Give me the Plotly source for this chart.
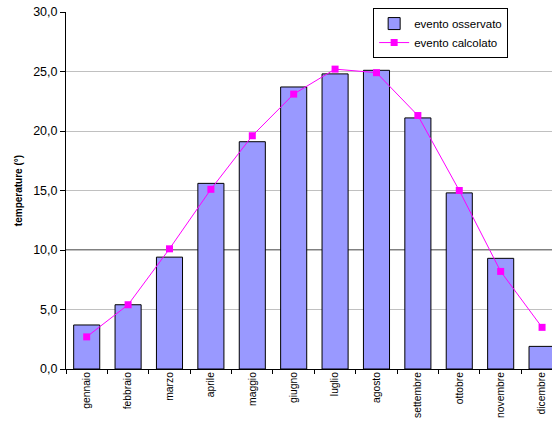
import plotly.graph_objects as go

mesi = ["gennaio", "febbraio", "marzo", "aprile", "maggio", "giugno",
        "luglio", "agosto", "settembre", "ottobre", "novembre", "dicembre"]
osservato = [3.7, 5.4, 9.4, 15.6, 19.1, 23.7, 24.8, 25.1, 21.1, 14.8, 9.3, 1.9]
calcolato = [2.7, 5.4, 10.1, 15.1, 19.6, 23.1, 25.2, 24.9, 21.3, 15.0, 8.2, 3.5]
y_ticks = [0, 5, 10, 15, 20, 25, 30]

font_fam = "Liberation Sans, Arial, sans-serif"

fig = go.Figure()
fig.add_trace(go.Bar(
    x=mesi, y=osservato, name="evento osservato",
    marker=dict(color="#9999ff", line=dict(color="black", width=1)),
    width=0.63,
))
fig.add_trace(go.Scatter(
    x=mesi, y=calcolato, name="evento calcolato", mode="lines+markers",
    line=dict(color="#ff00ff", width=1),
    marker=dict(symbol="square", size=7, color="#ff00ff"),
))

fig.add_shape(type="line", xref="paper", yref="y", x0=0, x1=1, y0=10, y1=10,
              line=dict(color="black", width=1), layer="below")

fig.update_layout(
    width=552, height=421,
    margin=dict(l=66, r=0, t=12, b=52, autoexpand=False),
    paper_bgcolor="white", plot_bgcolor="white",
    separators=",.",
    font=dict(family=font_fam, size=11, color="black"),
    showlegend=True,
    legend=dict(
        x=0.632, y=1.011, xanchor="left", yanchor="top",
        bordercolor="black", borderwidth=1, bgcolor="white",
        font=dict(size=11.5), tracegroupgap=0, itemwidth=30,
    ),
    xaxis=dict(
        type="category", range=[-0.5, 11.24], automargin=False,
        tickangle=-90, tickson="boundaries", ticks="outside", ticklen=4,
        ticklabelstandoff=-2,
        tickcolor="black", showline=True, linecolor="black", linewidth=1,
        showgrid=False, tickfont=dict(size=10.3),
    ),
    yaxis=dict(
        range=[0, 30], tickvals=y_ticks, tickformat=".1f", automargin=False,
        ticks="outside", ticklen=5, tickcolor="black",
        showline=True, linecolor="black", linewidth=1,
        showgrid=True, gridcolor="#c0c0c0", gridwidth=1,
        zeroline=False, tickfont=dict(size=12.5),
        title=dict(text="<b>temperature (°)</b>", font=dict(size=10), standoff=8),
    ),
)

fig.write_html("out.html")
